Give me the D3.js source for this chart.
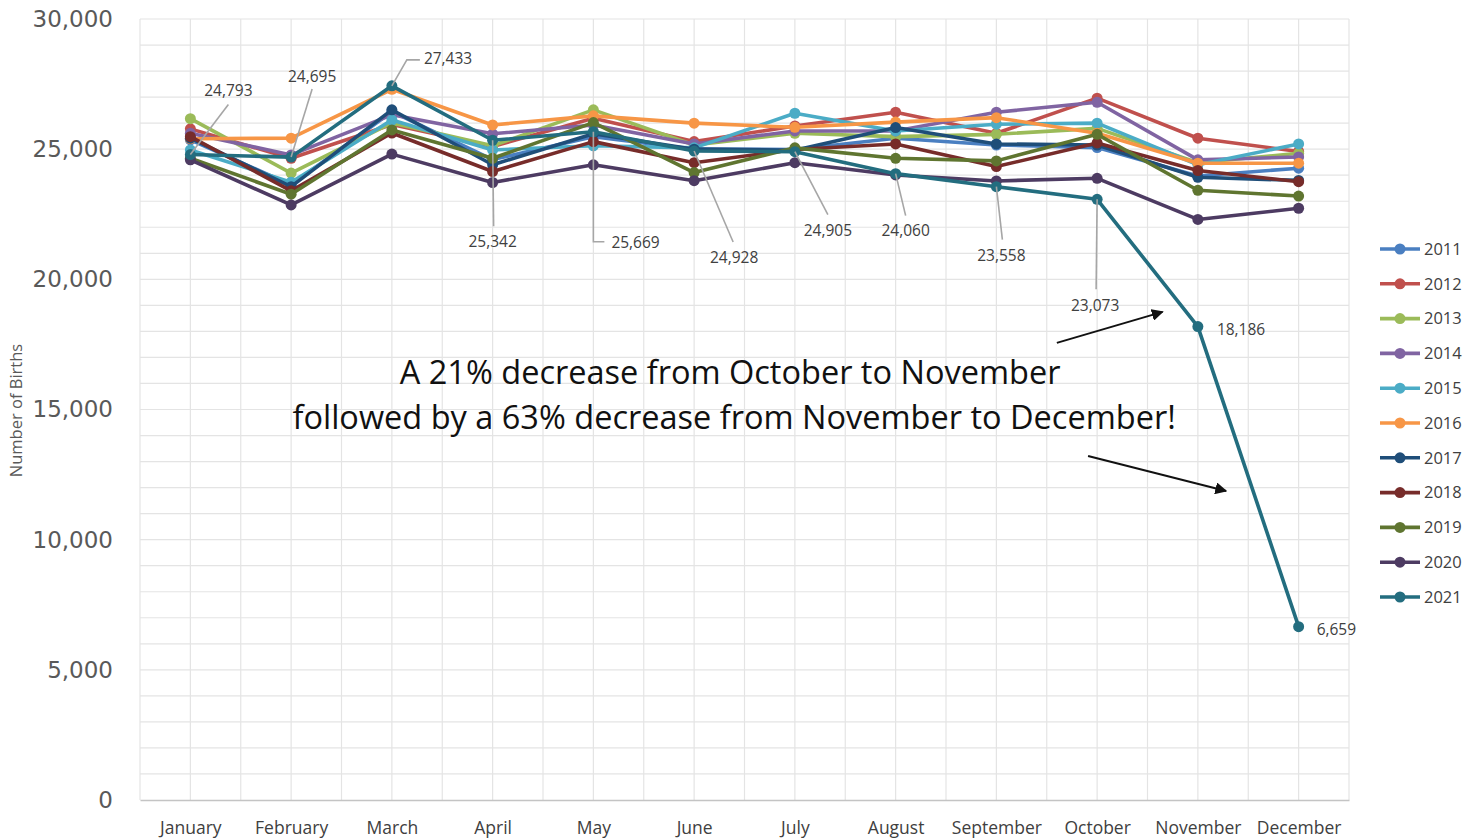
<!DOCTYPE html>
<html>
<head>
<meta charset="utf-8">
<script src="https://cdn.jsdelivr.net/npm/d3@7"></script>
<style>
  body { margin: 0; background: #fff; }
  svg { display: block; }
</style>
</head>
<body>
<div id="chart"></div>
<script>
// months on the x axis
const months = ["January", "February", "March", "April", "May", "June", "July",
  "August", "September", "October", "November", "December"];

// births per month, one array per year
const births2011 = [25360, 23630, 26440, 24600, 25480, 25000, 24990, 25420, 25160, 25060, 23970, 24270];
const births2012 = [25780, 24650, 25950, 25100, 26190, 25290, 25890, 26420, 25610, 26960, 25420, 24910];
const births2013 = [26170, 24080, 26010, 25130, 26510, 25160, 25610, 25480, 25570, 25800, 24480, 24840];
const births2014 = [25610, 24780, 26320, 25590, 25930, 25200, 25700, 25700, 26420, 26800, 24590, 24700];
const births2015 = [24970, 23730, 26120, 24970, 25130, 25050, 26380, 25700, 25960, 26000, 24400, 25200];
const births2016 = [25400, 25420, 27300, 25930, 26280, 26000, 25840, 26040, 26210, 25610, 24460, 24460];
const births2017 = [25420, 23560, 26510, 24400, 25590, 25000, 24960, 25830, 25200, 25160, 23920, 23800];
const births2018 = [25480, 23400, 25620, 24140, 25290, 24480, 24990, 25200, 24330, 25240, 24180, 23750];
const births2019 = [24650, 23270, 25740, 24650, 26020, 24100, 25050, 24650, 24550, 25570, 23420, 23200];
const births2020 = [24590, 22860, 24810, 23720, 24400, 23790, 24480, 24010, 23780, 23880, 22300, 22730];
const births2021 = [24793, 24695, 27433, 25342, 25669, 24928, 24905, 24060, 23558, 23073, 18186, 6659];

const years = ["2011", "2012", "2013", "2014", "2015", "2016", "2017", "2018", "2019", "2020", "2021"];
const yearColors = ["#4a7fc1", "#c0504d", "#9bbb59", "#8064a2", "#4bacc6", "#f79646",
  "#1f4e79", "#772c2a", "#5f7530", "#4d3b62", "#236d7f"];

const yTicks = [0, 5000, 10000, 15000, 20000, 25000, 30000];

const annotationLines = [
  "A 21% decrease from October to November",
  "followed by a 63% decrease from November to December!"
];

const series = years.map((y, i) => ({
  year: y,
  color: yearColors[i],
  values: [births2011, births2012, births2013, births2014, births2015, births2016,
    births2017, births2018, births2019, births2020, births2021][i]
}));

// callout placement for the 2021 labels (pixel offsets from the point)
const callouts = [
  { dx: 38, dy: -64, anchor: "middle", leader: [[0, 0], [38, -50]] },
  { dx: 21, dy: -81, anchor: "middle", leader: [[0, 0], [21, -68]] },
  { dx: 32, dy: -27, anchor: "start", leader: [[0, 0], [15, -26], [28, -26]] },
  { dx: 0, dy: 101, anchor: "middle", leader: [[0, 0], [1, 86]] },
  { dx: 18, dy: 111, anchor: "start", leader: [[0, 0], [0, 110], [11, 110]] },
  { dx: 40, dy: 107, anchor: "middle", leader: [[0, 0], [39, 91]] },
  { dx: 33, dy: 79, anchor: "middle", leader: [[0, 0], [33, 63]] },
  { dx: 10, dy: 57, anchor: "middle", leader: [[0, 0], [10, 42]] },
  { dx: 5, dy: 69, anchor: "middle", leader: [[0, 0], [6, 53]] },
  { dx: -2, dy: 106, anchor: "middle", leader: [[0, 0], [-1, 90]] },
  { dx: 19, dy: 3, anchor: "start", leader: null },
  { dx: 18, dy: 3, anchor: "start", leader: null }
];

const width = 1466, height = 840;
const margin = { top: 19, right: 117, bottom: 40, left: 140 };

const svg = d3.select("#chart").append("svg")
  .attr("width", width)
  .attr("height", height);

const x = d3.scalePoint()
  .domain(months)
  .range([margin.left, width - margin.right])
  .padding(0.5);

const y = d3.scaleLinear()
  .domain([0, 30000])
  .range([height - margin.bottom, margin.top]);

const step = x.step();

// grid: horizontal every 1000, vertical at every half month
const grid = svg.append("g").attr("class", "grid");
grid.selectAll("line.h")
  .data(d3.range(1000, 30001, 1000))
  .join("line")
  .attr("x1", margin.left)
  .attr("x2", width - margin.right)
  .attr("y1", d => y(d))
  .attr("y2", d => y(d))
  .attr("stroke", "#e4e4e4")
  .attr("stroke-width", 1.2);

grid.selectAll("line.v")
  .data(d3.range(0, months.length * 2 + 1))
  .join("line")
  .attr("x1", d => margin.left + d * step / 2)
  .attr("x2", d => margin.left + d * step / 2)
  .attr("y1", y(30000))
  .attr("y2", y(0))
  .attr("stroke", "#e4e4e4")
  .attr("stroke-width", 1.2);

// Y axis
const yAxis = svg.append("g")
  .attr("transform", `translate(${margin.left},0)`)
  .call(d3.axisLeft(y).tickValues(yTicks).tickFormat(d3.format(",")).tickSize(0).tickPadding(27));
yAxis.select(".domain").remove();
yAxis.selectAll("text")
  .style("font-family", "DejaVu Sans")
  .style("font-size", "23px")
  .attr("fill", "#595959");

// X axis
const xAxis = svg.append("g")
  .attr("transform", `translate(0,${y(0)})`)
  .call(d3.axisBottom(x).tickSize(0).tickPadding(22));
xAxis.select(".domain")
  .attr("stroke", "#c4c4c4")
  .attr("stroke-width", 1.5);
xAxis.selectAll("text")
  .style("font-family", "Open Sans")
  .style("font-size", "17.5px")
  .attr("fill", "#404040");

// axis title
svg.append("text")
  .attr("transform", `translate(22,${(y(0) + y(30000)) / 2 + 1}) rotate(-90)`)
  .attr("text-anchor", "middle")
  .style("font-family", "Open Sans")
  .style("font-size", "16.5px")
  .attr("fill", "#595959")
  .text("Number of Births");

// lines
const line = d3.line()
  .x((d, i) => x(months[i]))
  .y(d => y(d));

const lines = svg.append("g").attr("class", "lines");
series.forEach(s => {
  const g = lines.append("g");
  g.append("path")
    .datum(s.values)
    .attr("d", line)
    .attr("fill", "none")
    .attr("stroke", s.color)
    .attr("stroke-width", 3.6)
    .attr("stroke-linejoin", "round");
  g.selectAll("circle")
    .data(s.values)
    .join("circle")
    .attr("cx", (d, i) => x(months[i]))
    .attr("cy", d => y(d))
    .attr("r", 5.5)
    .attr("fill", s.color);
});

// 2021 callouts
const last = series[series.length - 1];
const labels = svg.append("g").attr("class", "callouts");
last.values.forEach((v, i) => {
  const c = callouts[i];
  const px = x(months[i]), py = y(v);
  if (c.leader) {
    labels.append("path")
      .attr("d", d3.line()(c.leader.map(p => [px + p[0], py + p[1]])))
      .attr("fill", "none")
      .attr("stroke", "#a6a6a6")
      .attr("stroke-width", 1.6);
  }
  labels.append("text")
    .attr("x", px + c.dx)
    .attr("y", py + c.dy)
    .attr("dy", "0.35em")
    .attr("text-anchor", c.anchor)
    .style("font-family", "Open Sans")
    .style("font-size", "15.5px")
    .attr("fill", "#404040")
    .text(d3.format(",")(v));
});

// annotation text
const note = svg.append("g").attr("class", "annotation");
note.selectAll("text")
  .data(annotationLines)
  .join("text")
  .attr("x", (d, i) => x("June") + 36 + i * 4)
  .attr("y", (d, i) => y(15980) + i * 45)
  .attr("text-anchor", "middle")
  .style("font-family", "Open Sans")
  .style("font-size", "32.5px")
  .attr("fill", "#111")
  .text(d => d);

// arrows (ends given as month index / value)
const arrows = [
  { from: [8.60, 17560], to: [9.65, 18750] },
  { from: [8.91, 13215], to: [10.28, 11870] }
];
svg.append("defs").append("marker")
  .attr("id", "arrowhead")
  .attr("viewBox", "0 0 10 10")
  .attr("refX", 9).attr("refY", 5)
  .attr("markerWidth", 6).attr("markerHeight", 6)
  .attr("orient", "auto")
  .append("path")
  .attr("d", "M0,0L10,5L0,10z")
  .attr("fill", "#111");
const xi = t => x(months[0]) + t * step;
note.selectAll("line")
  .data(arrows)
  .join("line")
  .attr("x1", d => xi(d.from[0]))
  .attr("y1", d => y(d.from[1]))
  .attr("x2", d => xi(d.to[0]))
  .attr("y2", d => y(d.to[1]))
  .attr("stroke", "#111")
  .attr("stroke-width", 2)
  .attr("marker-end", "url(#arrowhead)");

// legend
const legend = svg.append("g").attr("transform", "translate(1380,249)");
series.forEach((s, i) => {
  const row = legend.append("g").attr("transform", `translate(0,${i * 34.8})`);
  row.append("line")
    .attr("x1", 0).attr("x2", 40)
    .attr("stroke", s.color)
    .attr("stroke-width", 3.6);
  row.append("circle")
    .attr("cx", 20).attr("r", 5.5)
    .attr("fill", s.color);
  row.append("text")
    .attr("x", 44)
    .attr("dy", "0.35em")
    .style("font-family", "Open Sans")
    .style("font-size", "16.5px")
    .attr("fill", "#404040")
    .text(s.year);
});
</script>
</body>
</html>
